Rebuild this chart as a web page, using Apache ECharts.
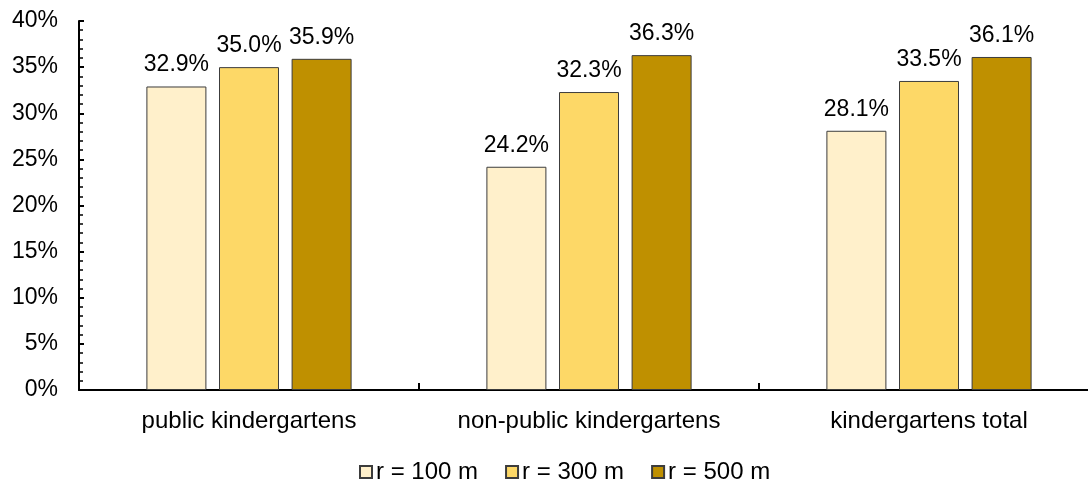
<!DOCTYPE html>
<html>
<head>
<meta charset="utf-8">
<script src="https://cdn.jsdelivr.net/npm/echarts@6/dist/echarts.min.js"></script>
<style>
  html, body { margin: 0; padding: 0; background: #fff; }
  #chart { width: 1088px; height: 481px; }
</style>
</head>
<body>
<div id="chart"></div>
<script>
// Share of children within the given radius, by kindergarten type
const categories = ['public kindergartens', 'non-public kindergartens', 'kindergartens total'];
const seriesNames = ['r = 100 m', 'r = 300 m', 'r = 500 m'];
const r100 = [32.9, 24.2, 28.1];
const r300 = [35.0, 32.3, 33.5];
const r500 = [35.9, 36.3, 36.1];
const colors = ['#FFF0CB', '#FDD867', '#BF9000'];

const font = 'Liberation Sans, Arial, sans-serif';

const chart = echarts.init(document.getElementById('chart'));
chart.setOption({
  animation: false,
  textStyle: { fontFamily: font },
  // the last category runs slightly past the right edge of the canvas
  grid: { left: 79, width: 1020, top: 21, bottom: 91, containLabel: false, outerBoundsMode: 'none' },
  legend: {
    top: 455,
    left: 354,
    itemWidth: 12,
    itemHeight: 12,
    itemGap: 27,
    icon: 'rect',
    textStyle: { fontSize: 24, color: '#000', fontFamily: font, padding: [0, 0, 0, -1] },
    data: seriesNames
  },
  xAxis: {
    type: 'category',
    data: categories,
    axisLine: { lineStyle: { color: '#000', width: 2 } },
    axisTick: { show: true, inside: true, length: 7, interval: 0, lineStyle: { color: '#000', width: 2 } },
    axisLabel: { fontSize: 24, color: '#000', margin: 19, interval: 0, hideOverlap: false, fontFamily: font }
  },
  yAxis: {
    type: 'value',
    min: 0,
    max: 40,
    interval: 5,
    axisLine: { show: true, lineStyle: { color: '#000', width: 2 } },
    axisTick: { show: true, inside: true, length: 5, lineStyle: { color: '#000', width: 2 } },
    minorTick: { show: true, splitNumber: 5, length: 4, lineStyle: { color: '#000', width: 1.5 } },
    splitLine: { show: false },
    axisLabel: { fontSize: 23, color: '#000', margin: 21, fontFamily: font, formatter: '{value}%' }
  },
  series: [r100, r300, r500].map((d, i) => ({
    name: seriesNames[i],
    type: 'bar',
    data: d,
    barWidth: 60,
    barGap: '21%',
    itemStyle: { color: colors[i], borderColor: '#3c3c3c', borderWidth: 1 },
    label: {
      show: true,
      position: 'top',
      distance: 10,
      fontSize: 23,
      color: '#000',
      fontFamily: font,
      formatter: p => p.value.toFixed(1) + '%'
    }
  }))
});
</script>
</body>
</html>
